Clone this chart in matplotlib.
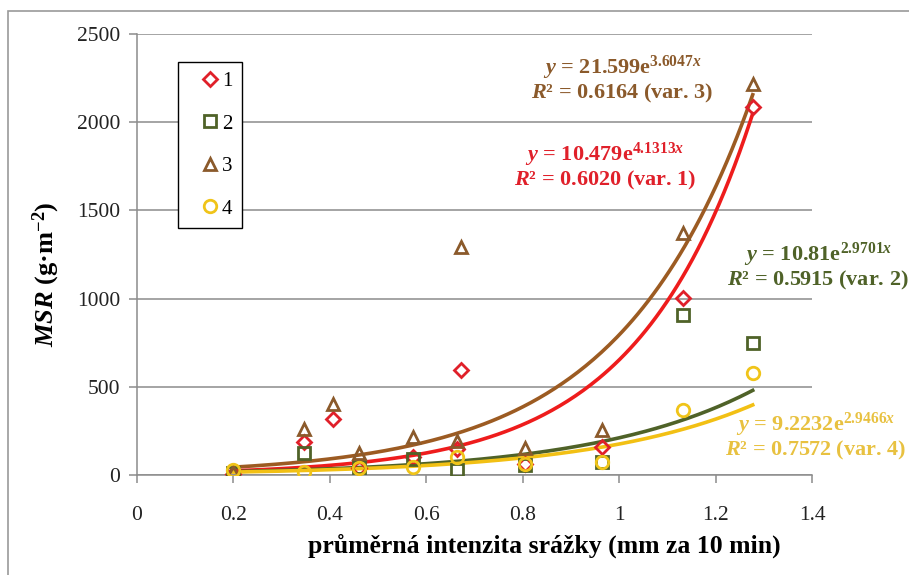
import matplotlib
matplotlib.use("Agg")
import matplotlib.pyplot as plt
import numpy as np
from matplotlib.patches import Rectangle

plt.rcParams['font.family'] = ['Liberation Serif', 'DejaVu Serif']
plt.rcParams['mathtext.fontset'] = 'custom'
plt.rcParams['mathtext.rm'] = 'Liberation Serif:bold'
plt.rcParams['mathtext.it'] = 'Liberation Serif:italic:bold'
plt.rcParams['mathtext.bf'] = 'Liberation Serif:bold'

# data
x1 = [0.2, 0.347, 0.407, 0.461, 0.573, 0.663, 0.672, 0.805, 0.965, 1.132, 1.277]
v1 = [8, 189, 316, 40, 100, 150, 595, 60, 160, 1005, 2086]
x2 = [0.2, 0.347, 0.461, 0.573, 0.663, 0.805, 0.965, 1.132, 1.277]
v2 = [10, 123, 45, 89, 28, 57, 75, 907, 746]
x3 = [0.2, 0.347, 0.407, 0.461, 0.573, 0.663, 0.672, 0.805, 0.965, 1.132, 1.277]
v3 = [15, 262, 401, 123, 217, 194, 1292, 151, 255, 1370, 2217]
x4 = [0.2, 0.347, 0.461, 0.573, 0.663, 0.805, 0.965, 1.132, 1.277]
v4 = [28, 19, 40, 47, 104, 60, 75, 368, 580]

# trend line equations shown in the chart (a * exp(b x))
fit_a = [10.479, 10.81, 21.599, 9.2232]
fit_b = [4.1313, 2.9701, 3.6047, 2.9466]
r2 = ['0.6020', '0.5915', '0.6164', '0.7572']

labels = ['1', '2', '3', '4']
mcol = ['#e0202a', '#4f6228', '#8b5a2b', '#f0c419']
lcol = ['#ee1c1c', '#4f6228', '#9c5b22', '#f2c014']
tcol = ['#e0202a', '#4f6228', '#8b5a2b', '#e8c140']
markers = ['D', 's', '^', 'o']
msz = [7, 8, 9, 9]

fig = plt.figure(figsize=(9.09, 5.75), dpi=100)
ax = fig.add_axes([0.1507, 0.1739, 0.7426, 0.767])

xs = [x1, x2, x3, x4]
vs = [v1, v2, v3, v4]
xx = np.linspace(0.2, 1.277, 200)
# trend lines: brown, red, green, yellow
for i in [2, 0, 1, 3]:
    ax.plot(xx, fit_a[i] * np.exp(fit_b[i] * xx), color=lcol[i], lw=2.6, zorder=3)
for i in range(4):
    ax.plot(xs[i], vs[i], linestyle='none', marker=markers[i], ms=msz[i],
            mfc='none', mec=mcol[i], mew=2, label=labels[i], zorder=4)

ax.set_xlim(0, 1.4)
ax.set_ylim(0, 2500)
ax.set_xticks(np.arange(0, 1.41, 0.2))
ax.set_xticklabels(['0', '0.2', '0.4', '0.6', '0.8', '1', '1.2', '1.4'])
ax.set_yticks(np.arange(0, 2501, 500))
ax.yaxis.grid(True, color='#8c8c8c', lw=1.1)
ax.set_axisbelow(True)
for s in ['top', 'right']:
    ax.spines[s].set_visible(False)
for s in ['left', 'bottom']:
    ax.spines[s].set_color('#8c8c8c')
    ax.spines[s].set_linewidth(1.1)
ax.tick_params(axis='both', colors='#8c8c8c', labelcolor='#222222',
               labelsize=15.5, length=6, width=1.1)
ax.tick_params(axis='x', pad=16)
ax.tick_params(axis='y', pad=6)

ax.set_xlabel('průměrná intenzita srážky (mm za 10 min)', fontsize=18.5,
              fontweight='bold')
ax.xaxis.set_label_coords(0.604, -0.132)
ax.set_ylabel(r'$MSR$ (g·m$^{-2}$)', fontsize=19, fontweight='bold')
ax.yaxis.set_label_coords(-0.111, 0.455)

leg = ax.legend(loc='upper left', bbox_to_anchor=(0.061, 0.936), fontsize=15,
                handletextpad=-0.55, labelspacing=1.1, handlelength=2.2,
                borderpad=0.45, fancybox=False, framealpha=1,
                edgecolor='black', borderaxespad=0)
leg.get_frame().set_linewidth(1.0)

# equations
eq_pos = [(605, 155), (818, 255), (622, 68), (816, 425)]
for i in range(4):
    px, py = eq_pos[i]
    fx, fy = px / 909, 1 - py / 575
    fig.text(fx, fy, r'$y$ = ' + ('%g' % fit_a[i]) + r'e$^{' + ('%.4f' % fit_b[i]) + r'x}$',
             ha='center', va='center', fontsize=16, fontweight='bold', color=tcol[i])
    fig.text(fx, fy - 25 / 575, r'$R$² = ' + r2[i] + ' (var. %d)' % (i + 1),
             ha='center', va='center', fontsize=16, fontweight='bold', color=tcol[i])

# outer frame of the chart
fig.patches.append(Rectangle((8 / 909, -0.1), 1.2, 1 - 11 / 575 + 0.1,
                             transform=fig.transFigure, fill=False,
                             edgecolor='#9a9a9a', lw=1.2))

fig.savefig('out.png', dpi=100)
